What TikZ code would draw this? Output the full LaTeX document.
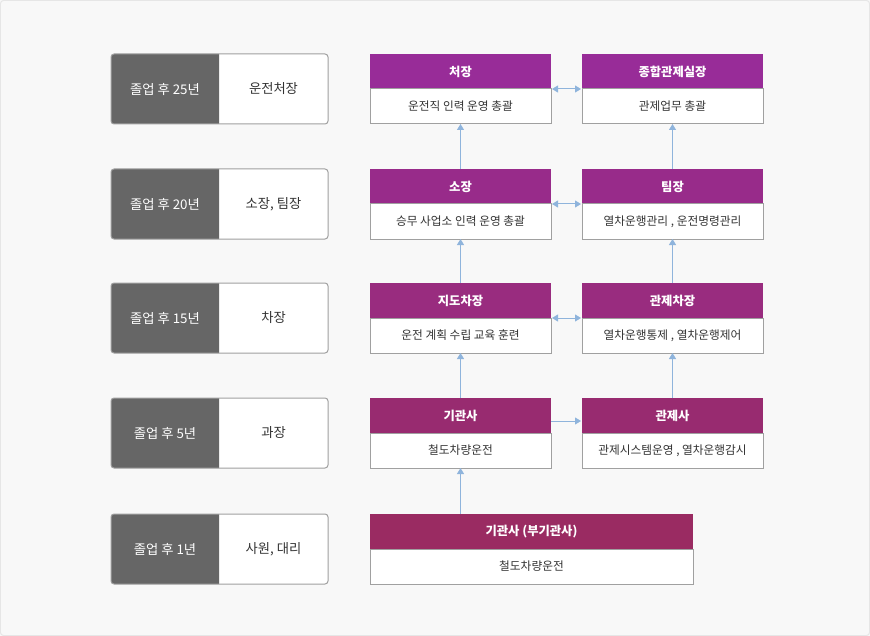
\documentclass[tikz,border=0pt]{standalone}
\usepackage{fontspec}
\setmainfont{Noto Sans CJK KR}
\usetikzlibrary{arrows.meta,backgrounds}
\definecolor{pagebg}{HTML}{F8F8F8}
\definecolor{pageline}{HTML}{E6E6E6}
\definecolor{darkgray}{HTML}{666666}
\definecolor{framegray}{HTML}{A0A0A0}
\definecolor{txt}{HTML}{333333}
\definecolor{arrowblue}{HTML}{8FB4DC}
\definecolor{hA}{HTML}{982C98}
\definecolor{hB}{HTML}{982B8A}
\definecolor{hC}{HTML}{992C7F}
\definecolor{hD}{HTML}{982B70}
\definecolor{hE}{HTML}{9A2B62}
\tikzset{
  ldark/.style={minimum width=108bp, minimum height=70bp, inner sep=0pt, outer sep=0pt, text=white, font=\fontsize{13.3bp}{15bp}\selectfont},
  lwhite/.style={minimum width=109bp, minimum height=70bp, inner sep=0pt, outer sep=0pt, text=txt, font=\fontsize{13.3bp}{15bp}\selectfont},
  hdr/.style={minimum width=181bp, minimum height=35bp, inner sep=0pt, outer sep=0pt, text=white, font=\fontsize{12.3bp}{14bp}\selectfont\bfseries},
  bdy/.style={minimum width=181bp, minimum height=35bp, inner sep=0pt, outer sep=0pt, fill=white, draw=framegray, line width=1bp, text=txt, font=\fontsize{11.7bp}{13bp}\selectfont},
  arr/.style={draw=arrowblue, line width=1bp, -{Triangle[length=6bp,width=7bp]}, arrowblue},
  darr/.style={draw=arrowblue, line width=1bp, {Triangle[length=6bp,width=7bp]}-{Triangle[length=6bp,width=7bp]}, arrowblue},
}
\begin{document}
\begin{tikzpicture}[x=1bp,y=-1bp]
\useasboundingbox (0,0) rectangle (870,636);

% left column
\node[ldark] (d1) at (165,89) {졸업 후 25년};
\node[lwhite] (w1) at (273.5,89) {운전처장};
\node[ldark] (d2) at (165,204) {졸업 후 20년};
\node[lwhite] (w2) at (273.5,204) {소장, 팀장};
\node[ldark] (d3) at (165,318) {졸업 후 15년};
\node[lwhite] (w3) at (273.5,318) {차장};
\node[ldark] (d4) at (165,433) {졸업 후 5년};
\node[lwhite] (w4) at (273.5,433) {과장};
\node[ldark] (d5) at (165,549) {졸업 후 1년};
\node[lwhite] (w5) at (273.5,549) {사원, 대리};

\begin{scope}[on background layer]
\fill[pagebg] (0,0) rectangle (870,636);
\draw[pageline, line width=1bp, rounded corners=3] (0.5,0.5) rectangle (869.5,635.5);
\foreach \i in {1,...,5}{
  \fill[white, rounded corners=3] (d\i.north west) rectangle (w\i.south east);
  \fill[darkgray] (d\i.north east) [rounded corners=3] -- (d\i.north west) -- (d\i.south west) [sharp corners] -- (d\i.south east) -- cycle;
  \draw[framegray, line width=1bp, rounded corners=3] (d\i.north west) rectangle (w\i.south east);
}
\end{scope}

% right boxes
\node[hdr, fill=hA] (h1a) at (460.5,71.5) {처장};
\node[bdy] (b1a) at (460.5,106.5) {운전직 인력 운영 총괄};
\node[hdr, fill=hA] (h1b) at (672.5,71.5) {종합관제실장};
\node[bdy] (b1b) at (672.5,106.5) {관제업무 총괄};

\node[hdr, fill=hB] (h2a) at (460.5,186.5) {소장};
\node[bdy] (b2a) at (460.5,221.5) {승무 사업소 인력 운영 총괄};
\node[hdr, fill=hB] (h2b) at (672.5,186.5) {팀장};
\node[bdy] (b2b) at (672.5,221.5) {열차운행관리 , 운전명령관리};

\node[hdr, fill=hC] (h3a) at (460.5,300.5) {지도차장};
\node[bdy] (b3a) at (460.5,335.5) {운전 계획 수립 교육 훈련};
\node[hdr, fill=hC] (h3b) at (672.5,300.5) {관제차장};
\node[bdy] (b3b) at (672.5,335.5) {열차운행통제 , 열차운행제어};

\node[hdr, fill=hD] (h4a) at (460.5,415.5) {기관사};
\node[bdy] (b4a) at (460.5,450.5) {철도차량운전};
\node[hdr, fill=hD] (h4b) at (672.5,415.5) {관제사};
\node[bdy] (b4b) at (672.5,450.5) {관제시스템운영 , 열차운행감시};

\node[hdr, fill=hE, minimum width=323bp] (h5) at (531.5,531.5) {기관사 (부기관사)};
\node[bdy, minimum width=323bp] (b5) at (531.5,566.5) {철도차량운전};

% vertical arrows
\draw[arr] (h2a.north) -- (b1a.south);
\draw[arr] (h2b.north) -- (b1b.south);
\draw[arr] (h3a.north) -- (b2a.south);
\draw[arr] (h3b.north) -- (b2b.south);
\draw[arr] (h4a.north) -- (b3a.south);
\draw[arr] (h4b.north) -- (b3b.south);
\draw[arr] (b4a.south |- h5.north) -- (b4a.south);

% horizontal arrows
\draw[darr] ([xshift=1bp]b1a.north east) -- ([xshift=-1bp]b1b.north west);
\draw[darr] ([xshift=1bp]b2a.north east) -- ([xshift=-1bp]b2b.north west);
\draw[darr] ([xshift=1bp]b3a.north east) -- ([xshift=-1bp]b3b.north west);
\draw[arr] ([yshift=-5.5bp]h4a.east) -- ([yshift=-5.5bp,xshift=-1bp]h4b.west);
\end{tikzpicture}
\end{document}
